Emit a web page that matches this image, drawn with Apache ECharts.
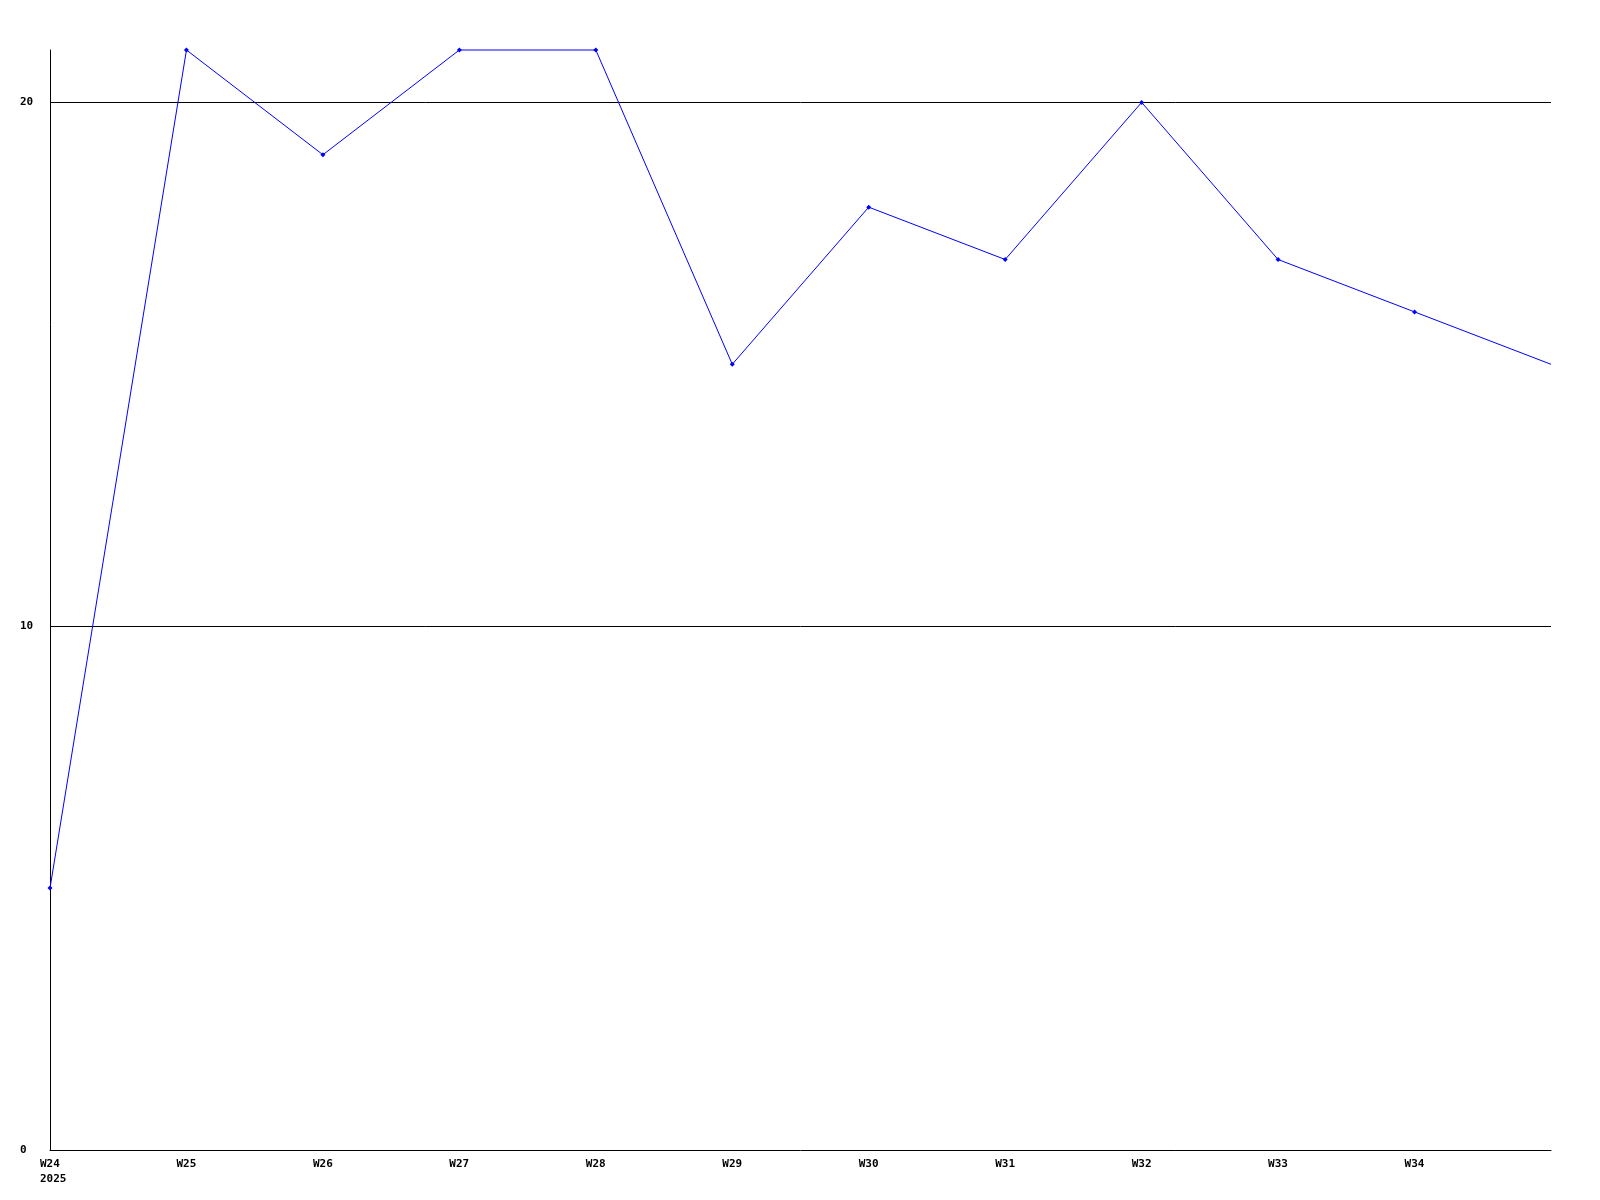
<!DOCTYPE html>
<html>
<head>
<meta charset="utf-8">
<script src="https://cdn.jsdelivr.net/npm/echarts@6/dist/echarts.min.js"></script>
<style>html,body{margin:0;padding:0;background:#fff;}#c{width:1600px;height:1200px;}</style>
</head>
<body>
<div id="c"></div>
<script>
const weeks = ['W24','W25','W26','W27','W28','W29','W30','W31','W32','W33','W34','W35'];
const tickLabels = ['W24\n2025','W25','W26','W27','W28','W29','W30','W31','W32','W33','W34',''];
const values = [5, 21, 19, 21, 21, 15, 18, 17, 20, 17, 16, 15];
const yTicks = [0, 10, 20];

const chart = echarts.init(document.getElementById('c'));
const font = {fontFamily: 'DejaVu Sans Mono', fontWeight: 'bold', fontSize: 11, color: '#000'};
chart.setOption({
  animation: false,
  backgroundColor: '#fff',
  grid: {left: 50, right: 49, top: 50, bottom: 50, containLabel: false},
  xAxis: {
    type: 'category',
    data: weeks,
    boundaryGap: false,
    axisLine: {show: true, lineStyle: {color: '#000', width: 1}},
    axisTick: {show: false},
    splitLine: {show: false},
    axisLabel: Object.assign({}, font, {
      margin: 7,
      interval: 0,
      formatter: (v, i) => tickLabels[i] ? tickLabels[i].split('\n').map(s => '{a|' + s + '}').join('\n') : '',
      rich: {a: Object.assign({}, font, {width: 20, align: 'left', lineHeight: 15})}
    })
  },
  yAxis: {
    type: 'value',
    min: 0,
    max: 21,
    interval: 10,
    axisLine: {show: true, lineStyle: {color: '#000', width: 1}},
    axisTick: {show: false},
    splitLine: {show: true, showMinLine: false, showMaxLine: false, lineStyle: {color: '#000', width: 1}},
    axisLabel: Object.assign({}, font, {
      margin: 30,
      align: 'left',
      showMaxLabel: false,
      formatter: v => yTicks.includes(v) ? String(v) : ''
    })
  },
  series: [{
    type: 'line',
    data: values.map((v, i) => i === values.length - 1 ? {value: v, symbol: 'none'} : v),
    symbol: 'diamond',
    symbolSize: 5,
    showSymbol: true,
    lineStyle: {color: '#0000ff', width: 1},
    itemStyle: {color: '#0000ff'},
    clip: false
  }]
});
</script>
</body>
</html>
